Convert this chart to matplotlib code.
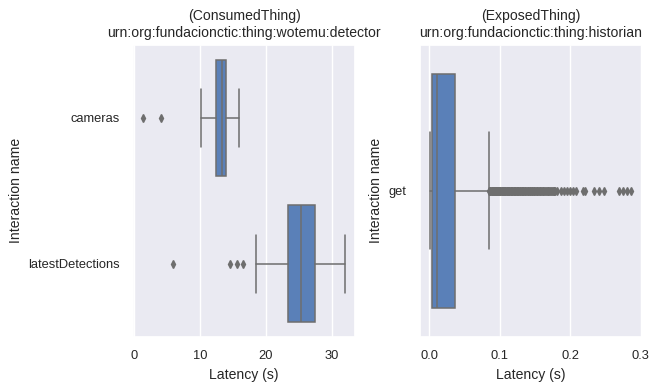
import matplotlib
matplotlib.use('Agg')
import matplotlib.pyplot as plt
import seaborn as sns

# left panel: ConsumedThing detector
left_names = ["cameras", "latestDetections"]
left_q1 = [12.36, 23.34]
left_med = [13.36, 25.24]
left_q3 = [13.86, 27.45]
left_lo = [10.15, 18.48]
left_hi = [15.87, 31.96]
left_fliers = [
    [1.38, 4.09],
    [5.85, 14.47, 15.62, 16.57],
]

# right panel: ExposedThing historian
right_names = ["get"]
right_q1 = [0.0034]
right_med = [0.0104]
right_q3 = [0.0360]
right_lo = [0.0010]
right_hi = [0.0845]
right_fliers = [[
    0.0855, 0.0862, 0.0869, 0.0877, 0.0884, 0.0891, 0.0899, 0.0906, 0.0913,
    0.0921, 0.0928, 0.0936, 0.0943, 0.0951, 0.0958, 0.0966, 0.0973, 0.0981,
    0.0988, 0.0996, 0.1004, 0.1011, 0.1019, 0.1027, 0.1035, 0.1042, 0.1050,
    0.1058, 0.1066, 0.1074, 0.1082, 0.1090, 0.1098, 0.1106, 0.1114, 0.1122,
    0.1130, 0.1138, 0.1147, 0.1155, 0.1163, 0.1172, 0.1180, 0.1188, 0.1197,
    0.1205, 0.1214, 0.1222, 0.1231, 0.1240, 0.1248, 0.1257, 0.1266, 0.1275,
    0.1284, 0.1293, 0.1302, 0.1311, 0.1320, 0.1329, 0.1338, 0.1348, 0.1357,
    0.1366, 0.1376, 0.1385, 0.1395, 0.1404, 0.1414, 0.1424, 0.1434, 0.1443,
    0.1453, 0.1463, 0.1473, 0.1483, 0.1494, 0.1504, 0.1514, 0.1525, 0.1535,
    0.1546, 0.1556, 0.1567, 0.1578, 0.1589, 0.1600, 0.1611, 0.1622, 0.1634,
    0.1645, 0.1657, 0.1668, 0.1680, 0.1692, 0.1704, 0.1716, 0.1729, 0.1741,
    0.1753, 0.1766, 0.1778, 0.1791, 0.1815,
    0.1864, 0.1906, 0.1952, 0.2000, 0.2037, 0.2084, 0.2187, 0.2215, 0.2341,
    0.2412, 0.2482, 0.2692, 0.2749, 0.2809, 0.2871,
]]

titles = [
    "(ConsumedThing)\nurn:org:fundacionctic:thing:wotemu:detector",
    "(ExposedThing)\nurn:org:fundacionctic:thing:historian",
]

sns.set_theme(style="darkgrid", font_scale=0.84)
plt.rcParams['font.family'] = ['Liberation Sans', 'DejaVu Sans']

BOX = "#5a80b8"
GRAY = "#6e6e6e"


def stats(names, q1, med, q3, lo, hi, fl):
    return [dict(label=n, q1=a, med=m, q3=b, whislo=w0, whishi=w1, fliers=f)
            for n, a, m, b, w0, w1, f in zip(names, q1, med, q3, lo, hi, fl)]


fig, axes = plt.subplots(1, 2, figsize=(6.5, 3.84), dpi=100)
plt.subplots_adjust(left=0.205, right=0.987, bottom=0.123, top=0.883, wspace=0.293)

panels = [
    stats(left_names, left_q1, left_med, left_q3, left_lo, left_hi, left_fliers),
    stats(right_names, right_q1, right_med, right_q3, right_lo, right_hi, right_fliers),
]

for ax, st, title in zip(axes, panels, titles):
    n = len(st)
    ax.bxp(st, positions=list(range(n)), widths=0.8, vert=False,
           patch_artist=True, capwidths=0.4,
           boxprops=dict(facecolor=BOX, edgecolor=GRAY, linewidth=1.1),
           medianprops=dict(color=GRAY, linewidth=1.1),
           whiskerprops=dict(color=GRAY, linewidth=1.1),
           capprops=dict(color=GRAY, linewidth=1.1),
           flierprops=dict(marker='d', markersize=3.6, markerfacecolor=GRAY,
                           markeredgecolor=GRAY, linestyle='none'))
    ax.set_ylim(n - 0.5, -0.5)
    ax.yaxis.grid(False)
    ax.set_yticks(range(n))
    ax.set_yticklabels([s["label"] for s in st])
    ax.set_xlabel("Latency (s)")
    ax.set_ylabel("Interaction name")
    ax.set_title(title)

axes[0].set_xticks([0, 10, 20, 30])
axes[1].set_xticks([0.0, 0.1, 0.2, 0.3])
axes[1].set_xticklabels(["0.0", "0.1", "0.2", "0.3"])

plt.savefig("out.png", dpi=100)
plt.close()
